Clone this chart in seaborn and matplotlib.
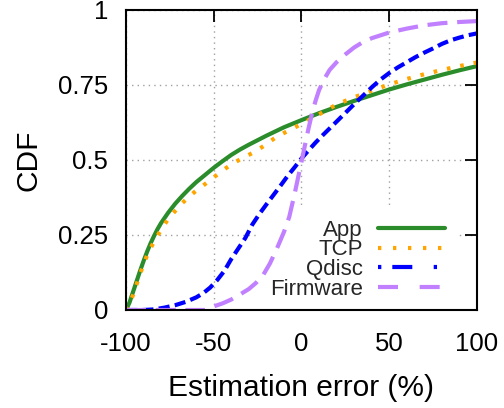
import matplotlib
matplotlib.use("Agg")
import matplotlib.pyplot as plt
from matplotlib.lines import Line2D
import pandas as pd
import seaborn as sns

# CDF samples of the estimation error (%) for each layer
app_x = [-100, -98, -96, -94, -92, -90, -88, -86, -84, -82, -80, -76, -72, -68, -64,
         -60, -55, -50, -45, -40, -35, -30, -25, -20, -15, -10, -5, 0, 10, 20, 30,
         40, 50, 60, 70, 80, 90, 100]
app_y = [0, 0.025, 0.06, 0.095, 0.13, 0.163, 0.194, 0.222, 0.247, 0.27, 0.29, 0.324,
         0.354, 0.38, 0.404, 0.426, 0.45, 0.474, 0.496, 0.517, 0.535, 0.551, 0.566,
         0.581, 0.595, 0.609, 0.621, 0.633, 0.656, 0.677, 0.697, 0.716, 0.735, 0.752,
         0.768, 0.784, 0.799, 0.813]

tcp_x = [-100, -98, -96, -94, -92, -90, -88, -86, -84, -80, -76, -72, -68, -64, -60,
         -56, -50, -45, -40, -35, -30, -25, -20, -15, -10, -5, 0, 10, 20, 30, 40, 50,
         60, 70, 80, 90, 100]
tcp_y = [0, 0.02, 0.05, 0.085, 0.12, 0.152, 0.182, 0.206, 0.228, 0.268, 0.303, 0.33,
         0.356, 0.378, 0.398, 0.415, 0.442, 0.465, 0.485, 0.502, 0.517, 0.533, 0.553,
         0.574, 0.59, 0.605, 0.62, 0.652, 0.685, 0.709, 0.731, 0.752, 0.77, 0.786,
         0.8, 0.813, 0.825]

qdisc_x = [-100, -90, -84, -78, -72, -66, -60, -56, -52, -48, -44, -40, -36, -32, -28,
           -24, -20, -16, -12, -8, -4, 0, 4, 8, 12, 16, 20, 25, 30, 35, 40, 45, 50,
           55, 60, 65, 70, 75, 80, 85, 90, 95, 100]
qdisc_y = [0, 0, 0.002, 0.008, 0.016, 0.027, 0.042, 0.056, 0.075, 0.1, 0.13, 0.17,
           0.205, 0.24, 0.285, 0.32, 0.352, 0.383, 0.414, 0.446, 0.475, 0.505, 0.532,
           0.558, 0.582, 0.605, 0.628, 0.657, 0.686, 0.714, 0.742, 0.768, 0.79, 0.809,
           0.826, 0.843, 0.858, 0.872, 0.887, 0.899, 0.908, 0.916, 0.922]

firmware_x = [-100, -55, -50, -45, -40, -35, -30, -26, -22, -18, -14, -10, -7, -4, -2,
              0, 2, 4, 6, 8, 10, 13, 16, 20, 25, 30, 35, 40, 50, 60, 70, 80, 90, 100]
firmware_y = [0, 0, 0.012, 0.022, 0.035, 0.052, 0.07, 0.09, 0.115, 0.155, 0.205, 0.26,
              0.31, 0.385, 0.44, 0.494, 0.55, 0.605, 0.655, 0.697, 0.733, 0.77, 0.8,
              0.826, 0.852, 0.875, 0.893, 0.906, 0.925, 0.938, 0.949, 0.956, 0.96, 0.963]

layers = ["App", "TCP", "Qdisc", "Firmware"]
x_ticks = [-100, -50, 0, 50, 100]
x_tick_labels = ["-100", "-50", "0", "50", "100"]
y_ticks = [0, 0.25, 0.5, 0.75, 1]
y_tick_labels = ["0", "0.25", "0.5", "0.75", "1"]

palette = {"App": "#2a8c2a", "TCP": "#ffa500", "Qdisc": "#0000ff", "Firmware": "#c080ff"}
curve_dashes = {"App": "", "TCP": (2.6, 7.2), "Qdisc": (8.0, 3.8), "Firmware": (14.4, 7.0)}
key_dashes = {"App": None, "TCP": (2.4, 8.4), "Qdisc": (2.4, 7.9, 14.4, 15.4),
              "Firmware": (14.4, 15.6)}

df = pd.concat([
    pd.DataFrame({"error": app_x, "cdf": app_y, "layer": "App"}),
    pd.DataFrame({"error": tcp_x, "cdf": tcp_y, "layer": "TCP"}),
    pd.DataFrame({"error": qdisc_x, "cdf": qdisc_y, "layer": "Qdisc"}),
    pd.DataFrame({"error": firmware_x, "cdf": firmware_y, "layer": "Firmware"}),
], ignore_index=True)

sns.set_theme(style="white")
plt.rcParams["font.family"] = ["Liberation Sans", "DejaVu Sans"]
plt.rcParams["lines.scale_dashes"] = False

fig = plt.figure(figsize=(5.04, 4.08), dpi=100)
ax = fig.add_axes([0.25, 0.2402, 0.6964, 0.7353])

sns.lineplot(data=df, x="error", y="cdf", hue="layer", style="layer",
             hue_order=layers, style_order=layers, palette=palette,
             dashes=curve_dashes, estimator=None, sort=False, lw=3.0,
             legend=False, ax=ax)

ax.set_xlim(-100, 100)
ax.set_ylim(0, 1)
ax.set_xticks(x_ticks)
ax.set_xticklabels(x_tick_labels)
ax.set_yticks(y_ticks)
ax.set_yticklabels(y_tick_labels)

ax.tick_params(direction="in", length=8.5, width=1.3, top=True, right=True,
               color="black", labelcolor="black", labelsize=18.5)
ax.tick_params(axis="x", pad=16)
ax.tick_params(axis="y", pad=13)

for side in ax.spines.values():
    side.set_visible(True)
    side.set_color("black")
    side.set_linewidth(1.5)

ax.grid(True, color="#a0a0a0", linestyle=(0, (1, 3)), linewidth=1.0)
ax.set_axisbelow(True)

ax.set_xlabel("Estimation error (%)", fontsize=21.5, color="black", va="baseline")
ax.xaxis.set_label_coords(0.5, -0.287)
ax.set_ylabel("CDF", fontsize=21.5, color="black", va="baseline")
ax.yaxis.set_label_coords(-0.254, 0.5)

handles = []
for name in layers:
    style = "-" if key_dashes[name] is None else (0, key_dashes[name])
    handles.append(Line2D([], [], color=palette[name], lw=3.0, linestyle=style))

leg = ax.legend(handles, layers, loc="lower right", bbox_to_anchor=(0.940, -0.003),
                borderaxespad=0, markerfirst=False, fontsize=16, handlelength=3.0,
                handletextpad=0.68, labelspacing=-0.06, borderpad=0.5, frameon=True,
                fancybox=False, facecolor="white", edgecolor="none", framealpha=1)
leg.set_zorder(1.5)

fig.savefig("out.png", dpi=100)
